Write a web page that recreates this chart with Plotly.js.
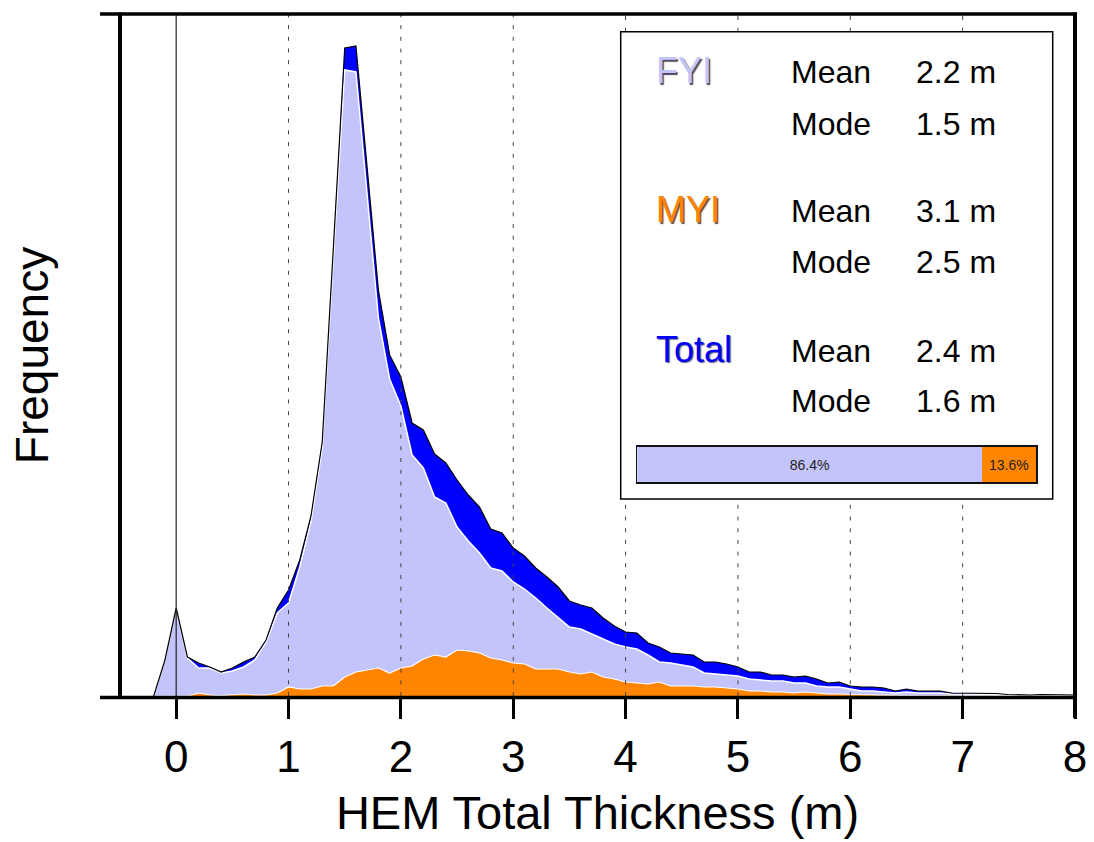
<!DOCTYPE html>
<html>
<head>
<meta charset="utf-8">
<script src="https://cdn.plot.ly/plotly-3.0.1.min.js"></script>
<style>
  html, body { margin: 0; padding: 0; background: #ffffff; }
  #chart { width: 1094px; height: 842px; }
</style>
</head>
<body>
<div id="chart"></div>
<script>
// ---------------- data ----------------
const thickness = [-0.2, -0.1, 0.0, 0.1, 0.2, 0.3, 0.4, 0.5, 0.6, 0.7, 0.8, 0.9,
  1.0, 1.1, 1.2, 1.3, 1.4, 1.5, 1.6, 1.7, 1.8, 1.9,
  2.0, 2.1, 2.2, 2.3, 2.4, 2.5, 2.6, 2.7, 2.8, 2.9,
  3.0, 3.1, 3.2, 3.3, 3.4, 3.5, 3.6, 3.7, 3.8, 3.9,
  4.0, 4.1, 4.2, 4.3, 4.4, 4.5, 4.6, 4.7, 4.8, 4.9,
  5.0, 5.1, 5.2, 5.3, 5.4, 5.5, 5.6, 5.7, 5.8, 5.9,
  6.0, 6.1, 6.2, 6.3, 6.4, 6.5, 6.6, 6.7, 6.8, 6.9,
  7.0, 7.1, 7.2, 7.3, 7.4, 7.5, 7.6, 7.7, 7.8, 7.9, 8.0];

const totalFreq = [0, 36, 88, 39, 33, 29, 24, 28, 34, 39, 56, 88,
  106, 136, 180, 254, 450, 648, 650, 530, 406, 341,
  319, 273, 266, 242, 233, 216, 201, 189, 167, 163,
  148, 140, 128, 119, 109, 95, 91, 88, 78, 70,
  64, 63, 53, 49, 43, 42, 41, 34, 34, 32,
  29, 24, 24, 21, 21, 19, 20, 17, 13, 14,
  10, 9, 9, 8, 5, 7, 5, 5, 5, 3,
  3, 3, 3, 2.5, 1.5, 1, 1, 1.5, 1.5, 1, 1];

const fyiFreq = [0, 36, 88, 38, 28, 28, 23, 25, 29, 36, 54, 83,
  93, 129, 175, 248, 440, 626, 624, 504, 378, 317,
  290, 241, 228, 199, 193, 169, 155, 143, 128, 125,
  114, 107, 98, 88, 78, 69, 67, 62, 57, 52,
  49, 47, 41, 34, 33, 31, 29, 23, 22, 21,
  20, 17, 16, 15, 15, 13, 13, 10, 9, 9,
  7, 5, 5, 4, 3, 4, 3, 3, 3, 2,
  2, 2, 2, 1.5, 1, 0.8, 0.8, 1, 1, 0.8, 0.8];

const myiFreq = [0, 0, 0, 0, 3, 1, 0.5, 1, 2, 1, 1, 3,
  9, 7, 7, 10, 10, 19, 24, 26, 28, 23,
  28, 30, 37, 41, 39, 46, 45, 43, 38, 36,
  33, 32, 27, 27, 27, 24, 22, 24, 19, 17,
  14, 13, 12, 14, 10, 10, 10, 9, 9, 8,
  7, 5, 5, 4, 4, 3, 4, 3, 2, 2,
  1.5, 1, 1, 0.8, 0.5, 0.5, 0.5, 0.5, 0.4, 0.4,
  0.4, 0.3, 0.3, 0.3, 0.3, 0.3, 0.3, 0.3, 0.3, 0.3, 0.3];

const xTickVals = [0, 1, 2, 3, 4, 5, 6, 7, 8];
const gridVals = [1, 2, 3, 4, 5, 6, 7];

const iceTypes = ['FYI', 'MYI', 'Total'];
const meanVals = ['2.2 m', '3.1 m', '2.4 m'];
const modeVals = ['1.5 m', '2.5 m', '1.6 m'];

const shareLabels = ['86.4%', '13.6%'];
const shareValues = [86.4, 13.6];

// ---------------- styling ----------------
const LAV = '#c4c4fc';
const ORA = '#ff8400';
const BLU = '#0000ff';
const FONT = 'Arial, "Liberation Sans", Helvetica, sans-serif';

const W = 1094, H = 842;
const M = { l: 120, r: 19, t: 15, b: 146 };
const PW = W - M.l - M.r, PH = H - M.t - M.b;
const px2x = p => (p - M.l) / PW;
const py2y = p => (H - M.b - p) / PH;

const traces = [
  { x: thickness, y: totalFreq, type: 'scatter', mode: 'lines', fill: 'tozeroy',
    fillcolor: BLU, line: { width: 0, color: BLU }, hoverinfo: 'skip', showlegend: false },
  { x: thickness, y: fyiFreq, type: 'scatter', mode: 'lines', fill: 'tozeroy',
    fillcolor: LAV, line: { width: 1.5, color: '#ffffff' }, hoverinfo: 'skip', showlegend: false },
  { x: thickness, y: myiFreq, type: 'scatter', mode: 'lines', fill: 'tozeroy',
    fillcolor: ORA, line: { width: 1.2, color: '#ffffff' }, hoverinfo: 'skip', showlegend: false },
  { x: thickness, y: totalFreq, type: 'scatter', mode: 'lines',
    line: { width: 1.2, color: '#000000' }, hoverinfo: 'skip', showlegend: false },
  { type: 'bar', orientation: 'h', x: [shareValues[0]], y: [0], xaxis: 'x2', yaxis: 'y2',
    width: 1, marker: { color: LAV, line: { width: 0 } }, text: [shareLabels[0]],
    textposition: 'inside', insidetextanchor: 'middle', textangle: 0,
    textfont: { family: FONT, size: 14, color: '#222222' }, hoverinfo: 'skip', showlegend: false },
  { type: 'bar', orientation: 'h', x: [shareValues[1]], y: [0], xaxis: 'x2', yaxis: 'y2',
    width: 1, marker: { color: ORA, line: { width: 0 } }, text: [shareLabels[1]],
    textposition: 'inside', insidetextanchor: 'middle', textangle: 0,
    textfont: { family: FONT, size: 14, color: '#222222' }, hoverinfo: 'skip', showlegend: false }
];

// inset box (pixel geometry)
const box = { l: 620.7, r: 1052.7, t: 31.7, b: 499 };
const boxP = { x0: px2x(box.l), x1: px2x(box.r), y0: py2y(box.b), y1: py2y(box.t) };

const shapes = [];
// dotted grid lines, interrupted by the inset box
const xToPx = v => M.l + (v - (-0.5)) / 8.5 * PW;
gridVals.forEach(v => {
  const p = xToPx(v);
  const st = { type: 'line', xref: 'x', yref: 'paper', x0: v, x1: v, layer: 'above',
    line: { color: '#444444', width: 1, dash: '4px,7.7px' } };
  if (p > box.l && p < box.r) {
    shapes.push(Object.assign({}, st, { y0: 0, y1: boxP.y0 }));
    shapes.push(Object.assign({}, st, { y0: boxP.y1, y1: 1 }));
  } else {
    shapes.push(Object.assign({}, st, { y0: 0, y1: 1 }));
  }
});
// solid zero line
shapes.push({ type: 'line', xref: 'x', yref: 'paper', x0: 0, x1: 0, y0: 0, y1: 1, layer: 'above',
  line: { color: '#222222', width: 1.2 } });
// frame
shapes.push({ type: 'line', xref: 'paper', yref: 'paper', x0: px2x(100), x1: px2x(1077), y0: py2y(14), y1: py2y(14),
  layer: 'above', line: { color: '#000', width: 3.5 } });
shapes.push({ type: 'line', xref: 'paper', yref: 'paper', x0: px2x(100), x1: px2x(1077), y0: py2y(697.5), y1: py2y(697.5),
  layer: 'above', line: { color: '#000', width: 3.5 } });
shapes.push({ type: 'line', xref: 'paper', yref: 'paper', x0: px2x(120), x1: px2x(120), y0: py2y(699), y1: py2y(12.5),
  layer: 'above', line: { color: '#000', width: 4 } });
shapes.push({ type: 'line', xref: 'paper', yref: 'paper', x0: px2x(1075), x1: px2x(1075), y0: py2y(718), y1: py2y(12.5),
  layer: 'above', line: { color: '#000', width: 4 } });
// inset box border
shapes.push({ type: 'rect', xref: 'paper', yref: 'paper', x0: boxP.x0, x1: boxP.x1, y0: boxP.y0, y1: boxP.y1,
  layer: 'above', line: { color: '#000', width: 1.5 }, fillcolor: 'rgba(0,0,0,0)' });

// inset text
const annotations = [];
const rowBase = [[83, 135], [222, 273], [362, 412]];
const typeColors = [LAV, ORA, BLU];
const typeShadow = ['1.5px 1.5px 1px rgba(40,40,60,0.85)', '1.5px 1.5px 1px rgba(70,30,0,0.8)', '1.2px 1.2px 1px rgba(0,0,60,0.6)'];
const mid = (base, size) => py2y(base - 0.3465 * size);
iceTypes.forEach((t, i) => {
  const [b1, b2] = rowBase[i];
  annotations.push({ xref: 'paper', yref: 'paper', x: px2x(655), y: mid(b1, 36), xanchor: 'left', yanchor: 'middle',
    text: t, showarrow: false, borderpad: 0,
    font: { family: FONT, size: 36, color: typeColors[i], shadow: typeShadow[i] } });
  annotations.push({ xref: 'paper', yref: 'paper', x: px2x(789.5), y: mid(b1, 32), xanchor: 'left', yanchor: 'middle',
    text: 'Mean', showarrow: false, borderpad: 0, font: { family: FONT, size: 32, color: '#000' } });
  annotations.push({ xref: 'paper', yref: 'paper', x: px2x(996.5), y: mid(b1, 32), xanchor: 'right', yanchor: 'middle',
    text: meanVals[i], showarrow: false, borderpad: 0, font: { family: FONT, size: 32, color: '#000' } });
  annotations.push({ xref: 'paper', yref: 'paper', x: px2x(789.5), y: mid(b2, 32), xanchor: 'left', yanchor: 'middle',
    text: 'Mode', showarrow: false, borderpad: 0, font: { family: FONT, size: 32, color: '#000' } });
  annotations.push({ xref: 'paper', yref: 'paper', x: px2x(996.5), y: mid(b2, 32), xanchor: 'right', yanchor: 'middle',
    text: modeVals[i], showarrow: false, borderpad: 0, font: { family: FONT, size: 32, color: '#000' } });
});

const layout = {
  width: W, height: H,
  margin: { l: M.l, r: M.r, t: M.t, b: M.b, pad: 0 },
  paper_bgcolor: '#ffffff', plot_bgcolor: '#ffffff',
  showlegend: false, barmode: 'stack',
  font: { family: FONT, color: '#000' },
  xaxis: {
    range: [-0.5, 8], tickvals: xTickVals, ticktext: xTickVals.map(String),
    ticks: 'outside', ticklen: 22, tickwidth: 3, tickcolor: '#000',
    showgrid: false, zeroline: false, showline: false,
    tickfont: { family: FONT, size: 44, color: '#000' },
    title: { text: 'HEM Total Thickness (m)', font: { family: FONT, size: 47, color: '#000' }, standoff: 16 },
    fixedrange: true
  },
  yaxis: {
    range: [0, 681], showticklabels: false, ticks: '', showgrid: false, zeroline: false, showline: false,
    title: { text: 'Frequency', font: { family: FONT, size: 46, color: '#000' }, standoff: 55 },
    fixedrange: true
  },
  xaxis2: {
    domain: [px2x(637.3), px2x(1036)], range: [0, 100], anchor: 'y2',
    showticklabels: false, ticks: '', showgrid: false, zeroline: false,
    showline: true, mirror: true, linewidth: 1.8, linecolor: '#111', fixedrange: true
  },
  yaxis2: {
    domain: [py2y(482), py2y(447)], range: [-0.5, 0.5], anchor: 'x2',
    showticklabels: false, ticks: '', showgrid: false, zeroline: false,
    showline: true, mirror: true, linewidth: 1.8, linecolor: '#111', fixedrange: true
  },
  shapes: shapes,
  annotations: annotations
};

Plotly.newPlot('chart', traces, layout, { displayModeBar: false, staticPlot: true });
</script>
</body>
</html>
